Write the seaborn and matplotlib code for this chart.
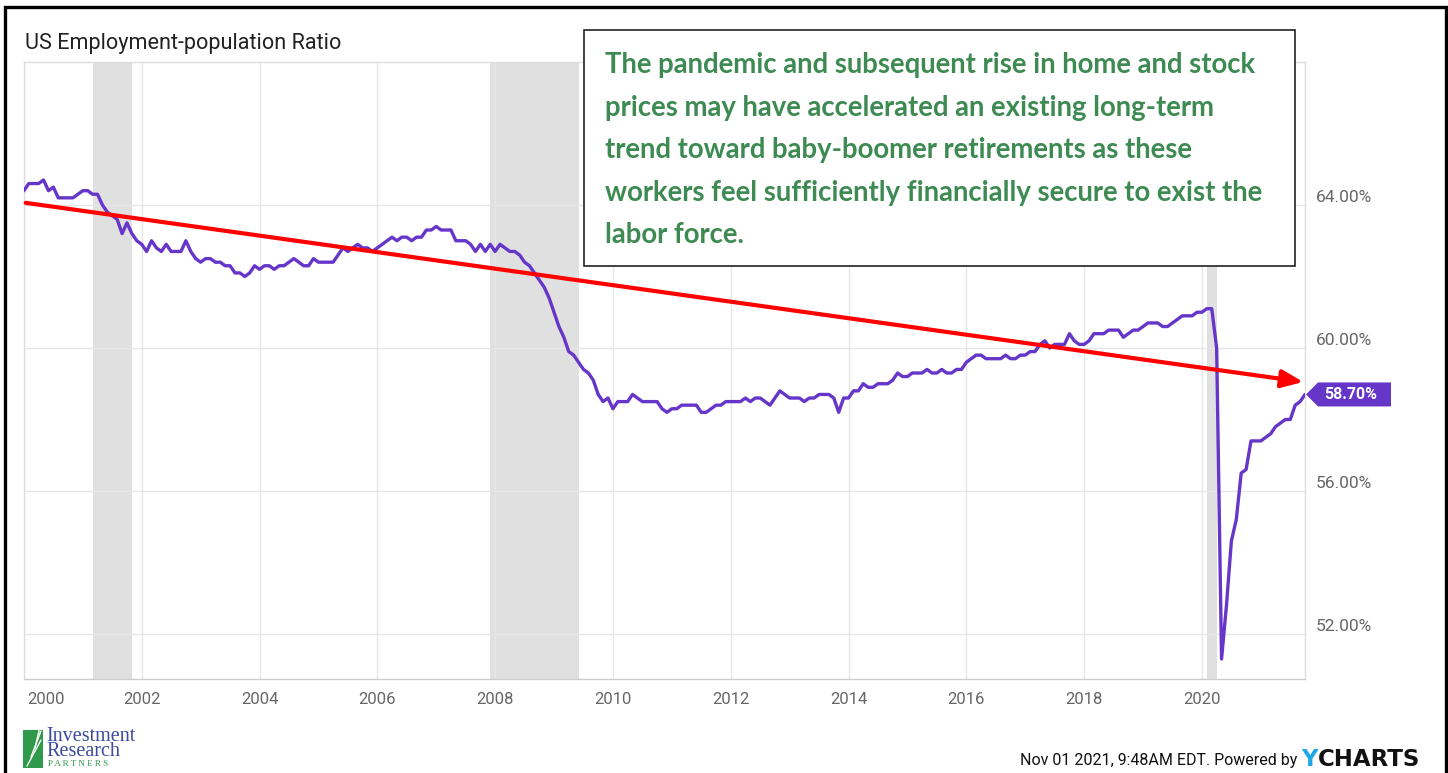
import numpy as np
import pandas as pd
import matplotlib
matplotlib.use("Agg")
import matplotlib.pyplot as plt
import matplotlib.transforms as mtransforms
from matplotlib.patches import Rectangle, Polygon
import seaborn as sns

# ---------------- data (monthly, month-end, Dec 1999 .. Sep 2021) ----------------
first_month = "1999-12"
v1999 = [64.4]
v2000 = [64.6, 64.6, 64.6, 64.7, 64.4, 64.5, 64.2, 64.2, 64.2, 64.2, 64.3, 64.4]
v2001 = [64.4, 64.3, 64.3, 64.0, 63.8, 63.7, 63.6, 63.2, 63.5, 63.2, 63.0, 62.9]
v2002 = [62.7, 63.0, 62.8, 62.7, 62.9, 62.7, 62.7, 62.7, 63.0, 62.7, 62.5, 62.4]
v2003 = [62.5, 62.5, 62.4, 62.4, 62.3, 62.3, 62.1, 62.1, 62.0, 62.1, 62.3, 62.2]
v2004 = [62.3, 62.3, 62.2, 62.3, 62.3, 62.4, 62.5, 62.4, 62.3, 62.3, 62.5, 62.4]
v2005 = [62.4, 62.4, 62.4, 62.6, 62.8, 62.7, 62.8, 62.9, 62.8, 62.8, 62.7, 62.8]
v2006 = [62.9, 63.0, 63.1, 63.0, 63.1, 63.1, 63.0, 63.1, 63.1, 63.3, 63.3, 63.4]
v2007 = [63.3, 63.3, 63.3, 63.0, 63.0, 63.0, 62.9, 62.7, 62.9, 62.7, 62.9, 62.7]
v2008 = [62.9, 62.8, 62.7, 62.7, 62.6, 62.4, 62.3, 62.1, 61.9, 61.7, 61.4, 61.0]
v2009 = [60.6, 60.3, 59.9, 59.8, 59.6, 59.4, 59.3, 59.1, 58.7, 58.5, 58.6, 58.3]
v2010 = [58.5, 58.5, 58.5, 58.7, 58.6, 58.5, 58.5, 58.5, 58.5, 58.3, 58.2, 58.3]
v2011 = [58.3, 58.4, 58.4, 58.4, 58.4, 58.2, 58.2, 58.3, 58.4, 58.4, 58.5, 58.5]
v2012 = [58.5, 58.5, 58.6, 58.5, 58.6, 58.6, 58.5, 58.4, 58.6, 58.8, 58.7, 58.6]
v2013 = [58.6, 58.6, 58.5, 58.6, 58.6, 58.7, 58.7, 58.7, 58.6, 58.2, 58.6, 58.6]
v2014 = [58.8, 58.8, 59.0, 58.9, 58.9, 59.0, 59.0, 59.0, 59.1, 59.3, 59.2, 59.2]
v2015 = [59.3, 59.3, 59.3, 59.4, 59.3, 59.3, 59.4, 59.3, 59.3, 59.4, 59.4, 59.6]
v2016 = [59.7, 59.8, 59.8, 59.7, 59.7, 59.7, 59.7, 59.8, 59.7, 59.7, 59.8, 59.8]
v2017 = [59.9, 59.9, 60.1, 60.2, 60.0, 60.1, 60.1, 60.1, 60.4, 60.2, 60.1, 60.1]
v2018 = [60.2, 60.4, 60.4, 60.4, 60.5, 60.5, 60.5, 60.3, 60.4, 60.5, 60.5, 60.6]
v2019 = [60.7, 60.7, 60.7, 60.6, 60.6, 60.7, 60.8, 60.9, 60.9, 60.9, 61.0, 61.0]
v2020 = [61.1, 61.1, 60.0, 51.3, 52.8, 54.6, 55.2, 56.5, 56.6, 57.4, 57.4, 57.4]
v2021 = [57.5, 57.6, 57.8, 57.9, 58.0, 58.0, 58.4, 58.5, 58.7]

recessions = [(2001.167, 2001.833), (2007.917, 2009.417), (2020.083, 2020.25)]
x_ticks = [2000, 2002, 2004, 2006, 2008, 2010, 2012, 2014, 2016, 2018, 2020]
y_ticks = [52, 56, 60, 64]
y_tick_labels = ["52.00%", "56.00%", "60.00%", "64.00%"]
trend_start = (2000.03, 64.06)
trend_end = (2021.72, 59.05)
title = "US Employment-population Ratio"
note_lines = [
    "The pandemic and subsequent rise in home and stock",
    "prices may have accelerated an existing long-term",
    "trend toward baby-boomer retirements as these",
    "workers feel sufficiently financially secure to exist the",
    "labor force.",
]
last_label = "58.70%"
footer = "Nov 01 2021, 9:48AM EDT. Powered by"
logo_name = "Investment\nResearch"
logo_sub = "P A R T N E R S"

# ---------------- frame ----------------
values = (v1999 + v2000 + v2001 + v2002 + v2003 + v2004 + v2005 + v2006 + v2007 + v2008
          + v2009 + v2010 + v2011 + v2012 + v2013 + v2014 + v2015 + v2016 + v2017
          + v2018 + v2019 + v2020 + v2021)
months = pd.period_range(first_month, periods=len(values), freq="M")
df = pd.DataFrame({"t": months.year + months.month / 12.0, "ratio": values})

PURPLE = "#6636c9"
GREEN = "#3d8b52"
GRID = "#e6e6e6"
TICK = "#666666"

sns.set_style("white")
plt.rcParams["font.family"] = ["Roboto", "DejaVu Sans"]

W, H = 1448, 773
fig = plt.figure(figsize=(W / 100, H / 100), dpi=100)
L, R, T, B = 23.9, 1305, 62, 679
ax = fig.add_axes([L / W, 1 - B / H, (R - L) / W, (B - T) / H])

for a, b in recessions:
    ax.axvspan(a, b, color="#e0e0e0", lw=0, zorder=0)

sns.lineplot(data=df, x="t", y="ratio", ax=ax, color=PURPLE, linewidth=2.4, zorder=3)

ax.set_xlim(2000.0, 2021.75)
ax.set_ylim(50.74, 68.0)
ax.set_xlabel("")
ax.set_ylabel("")

ax.set_xticks(x_ticks)
ax.set_xticklabels([str(x) for x in x_ticks])
ax.set_yticks(y_ticks)
ax.set_yticklabels([])
ax.grid(True, color=GRID, lw=1, zorder=0)
ax.set_axisbelow(True)
ax.tick_params(axis="both", length=0)
ax.tick_params(axis="x", pad=9.5, labelsize=12, labelcolor=TICK)
first = ax.get_xticklabels()[0]
first.set_horizontalalignment("left")
first.set_transform(first.get_transform() + mtransforms.ScaledTranslation(0.03, 0, fig.dpi_scale_trans))

for sp in ["top", "left", "right"]:
    ax.spines[sp].set_color("#dddddd")
    ax.spines[sp].set_linewidth(1)
ax.spines["bottom"].set_color("#cccccc")
ax.spines["bottom"].set_linewidth(1)

ytrans = mtransforms.blended_transform_factory(ax.transAxes, ax.transData) + \
    mtransforms.ScaledTranslation(0.11, 0.07, fig.dpi_scale_trans)
for yv, yl in zip(y_ticks, y_tick_labels):
    ax.text(1.0, yv, yl, transform=ytrans, ha="left", va="center",
            fontsize=12.5, color=TICK, clip_on=False)

# red trend arrow
ax.annotate("", xy=trend_end, xytext=trend_start, annotation_clip=False,
            arrowprops=dict(arrowstyle="-|>,head_length=0.65,head_width=0.27",
                            mutation_scale=20, color="#ff0000", lw=3.0,
                            shrinkA=0, shrinkB=0), zorder=4)

# last value flag
t_last, v_last = df["t"].iloc[-1], df["ratio"].iloc[-1]
anchor = mtransforms.ScaledTranslation(t_last, v_last, ax.transData)
flag_trans = fig.dpi_scale_trans + anchor
flag = Polygon([(0.01, 0.0), (0.13, 0.12), (0.86, 0.12), (0.86, -0.12), (0.13, -0.12)],
               closed=True, transform=flag_trans, facecolor=PURPLE, edgecolor="none",
               clip_on=False, zorder=6)
ax.add_artist(flag)
ax.annotate(last_label, xy=(t_last, v_last), xytext=(33, 0), textcoords="offset points",
            ha="center", va="center", color="white", fontsize=11.5, fontweight="bold",
            annotation_clip=False, zorder=7)

# title
fig.text(25 / W, 1 - 43 / H, title, fontsize=15.6, color="#222222", ha="left", va="center")

# note box
bx0, by0, bx1, by1 = 584, 30, 1295, 266
box = Rectangle((bx0 / W, 1 - by1 / H), (bx1 - bx0) / W, (by1 - by0) / H,
                transform=fig.transFigure, facecolor="white", edgecolor="#222222",
                lw=1.2, zorder=10)
fig.add_artist(box)
for i, line in enumerate(note_lines):
    fig.text(605 / W, 1 - (65 + 42.6 * i) / H, line, fontsize=19.8, fontweight="bold",
             family=["Lato", "DejaVu Sans"], color=GREEN, ha="left", va="center", zorder=11)

# logo
icon = Rectangle((23 / W, 1 - 768 / H), 20 / W, 38 / H, transform=fig.transFigure,
                 facecolor="#2e9a4a", edgecolor="none")
fig.add_artist(icon)
for k in range(3):
    fig.add_artist(plt.Line2D([(27 + 4 * k) / W, (41) / W], [1 - (766 - 9 * k) / H, 1 - (740 - 9 * k) / H],
                              transform=fig.transFigure, color="white", lw=1.0))
fig.text(46 / W, 1 - 744 / H, logo_name, fontsize=14.5, linespacing=0.74,
         family=["Liberation Serif", "DejaVu Serif"], color="#3b4aa0", ha="left", va="center")
fig.text(48 / W, 1 - 764.5 / H, logo_sub, fontsize=6.5, family=["Liberation Serif", "DejaVu Serif"],
         color="#2e9a4a", ha="left", va="center")

# footer
fig.text(1297 / W, 1 - 761 / H, footer, fontsize=11.5, color="#111111", ha="right", va="center")
fig.text(1301 / W, 1 - 760 / H, "Y", fontsize=16.5, fontweight="bold", color="#1ea7e8",
         family=["DejaVu Sans"], ha="left", va="center")
fig.text(1318 / W, 1 - 760 / H, "CHARTS", fontsize=16.5, fontweight="bold", color="#111111",
         family=["DejaVu Sans"], ha="left", va="center")

# outer frame
frame = Rectangle((4.5 / W, 1 - 790 / H), (1446 - 4.5) / W, (790 - 7) / H,
                  transform=fig.transFigure, facecolor="none", edgecolor="black", lw=2.4,
                  clip_on=False, zorder=20)
fig.add_artist(frame)

fig.savefig("out.png", dpi=100)
